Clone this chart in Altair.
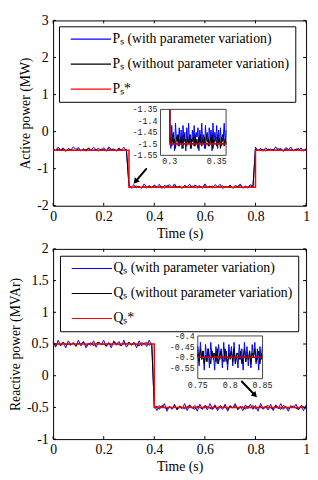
import altair as alt
import pandas as pd

# ================= DATA =================
# sample instants (s)
t_main = [i / 100 for i in range(101)]
t_inset_p = [round(0.3 + i / 1000, 3) for i in range(61)]
t_inset_q = [round(0.75 + i / 500, 3) for i in range(51)]

# tick values
x_ticks = [0, 0.2, 0.4, 0.6, 0.8, 1]
p_ticks = [-2, -1, 0, 1, 2, 3]
q_ticks = [-1, -0.5, 0, 0.5, 1, 1.5, 2]
p_inset_xticks = [0.3, 0.35]
p_inset_yticks = [-1.55, -1.5, -1.45, -1.4, -1.35]
q_inset_xticks = [0.75, 0.8, 0.85]
q_inset_yticks = [-0.55, -0.5, -0.45, -0.4]

# reference (set-point) signals
p_ref_t = [0.0, 0.3, 0.3, 0.8, 0.8, 1.0]
p_ref_v = [-0.5, -0.5, -1.5, -1.5, -0.5, -0.5]
q_ref_t = [0.0, 0.4, 0.4, 1.0]
q_ref_v = [0.5, 0.5, -0.5, -0.5]
p_inset_ref_t = [0.3, 0.3, 0.36]
p_inset_ref_v = [-0.5, -1.5, -1.5]
q_inset_ref_t = [0.75, 0.85]
q_inset_ref_v = [-0.5, -0.5]

# measured deviation from the set-point, in 0.01 MW / 0.01 MVAr
p_with_dev = [5, -2, 8, 1, 6, -3, 3, 0, 9, 2, 7, -2, 4, -3, 6, 0, 8, 1, 5, -2,
              7, -3, 9, 2, 3, -2, 6, 0, 8, -3, 4, 1, 7, -2, 2, -3, 9, 0, 3, -2,
              6, 1, 8, -3, 5, 2, 7, -1, 9, -2, 3, -3, 5, 1, 8, -2, 6, 2, 4, -3,
              9, 0, 3, -2, 7, 1, 8, -3, 2, 0, 6, -2, 5, 1, 9, -3, 3, 0, 7, 2,
              8, -2, 4, -3, 6, 1, 3, -2, 9, 0, 5, -3, 7, 2, 8, -2, 3, 0, 6, -3, 4]
p_without_dev = [1, -1, 3, 0, 2, -2, 4, 1, 0, -1, 3, -2, 2, 1, 4, -1, 0, 2, -2, 3,
                 1, -1, 4, 0, 2, -2, 3, 1, -1, 2, 4, -2, 0, 3, 1, -1, 2, -2, 4, 0,
                 3, -1, 1, 2, -2, 4, 0, -1, 3, 1, 2, -2, 4, -1, 0, 3, 1, -2, 2, 0,
                 4, -1, 1, 3, -2, 2, 0, 4, -1, 1, 3, -2, 0, 2, 4, -1, 1, -2, 3, 0,
                 2, -1, 4, 1, -2, 3, 0, 2, -1, 4, 1, -2, 3, 0, 1, -1, 2, 4, -2, 0, 3]
q_with_dev = [4, -5, 6, -2, 3, -6, 5, -1, 2, -4, 6, -3, 4, -6, 1, -2, 5, -5, 3, -1,
              6, -4, 2, -6, 5, -2, 4, -3, 6, -5, 1, -1, 3, -6, 5, -3, 2, -4, 6, -2,
              4, -5, 3, -1, 6, -6, 2, -3, 5, -4, 1, -2, 6, -5, 4, -1, 3, -6, 5, -3,
              2, -4, 6, -2, 4, -5, 1, -3, 5, -6, 3, -1, 6, -4, 2, -5, 4, -2, 5, -3,
              3, -6, 6, -1, 2, -4, 5, -5, 4, -2, 6, -3, 1, -6, 3, -1, 5, -4, 2, -5, 4]
q_without_dev = [2, -2, 1, -3, 3, -1, 0, -2, 2, -3, 1, 0, 3, -2, -1, 2, -3, 1, 3, -1,
                 0, -3, 2, -2, 3, 1, -1, -3, 2, 0, 3, -2, 1, -1, -3, 2, 0, 3, -2, 1,
                 -1, 2, -3, 3, 0, -2, 1, -1, 3, -3, 2, 0, -2, 1, 3, -1, -3, 2, 0, -2,
                 3, 1, -1, -3, 2, -2, 3, 0, 1, -3, 2, -1, 3, -2, 0, 1, -3, 2, -1, 3,
                 -2, 0, 2, -3, 1, 3, -1, -2, 2, 0, -3, 3, 1, -2, 0, 2, -1, -3, 3, 1, -2]

# zoomed insets (deviation from -1.5 MW / -0.5 MVAr, in 0.01 units)
p_inset_with_dev = [6, -2, 8, 1, 5, -3, 9, 2, 4, -1, 7, 0, 6, -2, 8, 3, 5, -3, 7, 1,
                    9, 0, 4, -2, 6, 2, 8, -1, 5, 3, 7, -3, 6, 0, 9, 1, 4, -2, 8, 2,
                    5, -1, 7, 3, 6, -3, 9, 0, 5, 2, 8, -2, 6, 1, 7, -1, 4, 3, 9, 0, 6]
p_inset_without_dev = [1, 3, -1, 4, 0, 2, -2, 3, 1, 4, -1, 2, 0, 3, -2, 4, 1, 2, -1, 3,
                       0, 4, -2, 2, 1, 3, -1, 4, 0, 2, -2, 3, 1, 4, -1, 2, 0, 3, -2, 4,
                       1, 2, -1, 3, 0, 4, -2, 2, 1, 3, -1, 4, 0, 2, -2, 3, 1, 4, -1, 2, 0]
q_inset_with_dev = [5, -4, 7, -1, 3, -6, 6, -2, 4, -5, 7, 0, 2, -6, 5, -3, 6, -1, 4, -5,
                    7, -2, 3, -6, 6, 0, 5, -4, 7, -3, 2, -5, 6, -1, 4, -6, 7, -2, 5, -4,
                    3, -5, 6, 0, 7, -3, 4, -6, 5, -1, 6]
q_inset_without_dev = [2, -2, 4, -1, 3, -3, 1, -2, 4, 0, -3, 3, -1, 2, -2, 4, -3, 1, 3, -1,
                       -2, 4, 0, -3, 2, -1, 3, -2, 4, -3, 1, 2, -1, 3, -3, 0, 4, -2, 1, -1,
                       3, -3, 2, 0, 4, -2, -1, 3, -3, 2, 1]
p_inset_base = -1.5
q_inset_base = -0.5

# arrows (data coordinates of the main axes)
p_arrow_t = [0.37, 0.328]
p_arrow_v = [-0.99, -1.33]
q_arrow_t = [0.744, 0.7955]
q_arrow_v = [-0.084, -0.297]

p_names = ["Pₛ (with parameter variation)", "Pₛ (without parameter variation)", "Pₛ*"]
q_names = ["Qₛ (with parameter variation)", "Qₛ (without parameter variation)", "Qₛ*"]

# ================= HELPERS =================
SERIF = "Liberation Serif"
MONO = "Liberation Mono"
LAB = "'' + datum.value"
LINE_SYMBOL = "M-20.5,0H20.5"
TICK_UP, TICK_DOWN, TICK_RIGHT, TICK_LEFT = "M0,0V-1", "M0,0V1", "M0,0H1", "M0,0H-1"


def level(t, ref_t, ref_v):
    v = ref_v[0]
    for rt, rv in zip(ref_t, ref_v):
        if rt <= t + 1e-9:
            v = rv
    return v


def series(ts, vs, name):
    return pd.DataFrame({"t": ts, "v": vs, "s": name, "i": list(range(len(ts)))})


def panel(W, H, names, ref_t, ref_v, with_dev, without_dev, y_dom, y_ticks, y_title,
          y_title_pad, leg_xy, arrow_t, arrow_v, arrow_angle,
          in_xdom, in_ydom, in_xrng, in_yrng, in_xticks, in_yticks,
          in_t, in_with, in_without, in_base, in_ref_t, in_ref_v):
    xs = alt.Scale(domain=[0, 1], nice=False, zero=False)
    ys = alt.Scale(domain=y_dom, nice=False, zero=False)

    def X(field="t:Q", scale=xs, axis=None):
        return alt.X(field, scale=scale, axis=axis)

    def Y(field="v:Q", scale=ys, axis=None):
        return alt.Y(field, scale=scale, axis=axis)

    d_with = series(t_main, [level(t, ref_t, ref_v) + d / 100 for t, d in zip(t_main, with_dev)], names[0])
    d_without = series(t_main, [level(t, ref_t, ref_v) + d / 100 for t, d in zip(t_main, without_dev)], names[1])
    d_ref = series(ref_t, ref_v, names[2])

    legend = alt.Legend(title=None, orient="none", legendX=leg_xy[0], legendY=leg_xy[1],
                        symbolType=LINE_SYMBOL, symbolSize=4, symbolStrokeWidth=1.2,
                        symbolOffset=19.5, labelOffset=15,
                        labelFont=SERIF, labelFontSize=14, labelColor="black",
                        labelLimit=400, padding=6, rowPadding=11.5,
                        strokeColor="black", fillColor="white")
    color = alt.Color("s:N", scale=alt.Scale(domain=names, range=["#0000ff", "#000000", "#ff0000"]),
                      legend=legend)

    ax_x = alt.Axis(values=x_ticks, labelExpr=LAB, title="Time (s)", orient="bottom", ticks=False,
                    domain=False, grid=False, labelPadding=4, titlePadding=3, labelFlush=False,
                    labelOverlap=False)
    ax_y = alt.Axis(values=y_ticks, labelExpr=LAB, title=y_title, orient="left", ticks=False,
                    domain=False, grid=False, labelPadding=5, titlePadding=y_title_pad,
                    labelFlush=False, labelOverlap=False)

    blue = alt.Chart(d_with).mark_line(strokeWidth=1).encode(
        x=X(axis=ax_x), y=Y(axis=ax_y), color=color, order="i:Q")
    black = alt.Chart(d_without).mark_line(strokeWidth=1).encode(
        x=X(), y=Y(), color=color, order="i:Q")
    red = alt.Chart(d_ref).mark_line(strokeWidth=1.5).encode(
        x=X(), y=Y(), color=color, order="i:Q")

    # inward tick marks on all four sides of the frame
    def ticks(ts, vs, shape):
        df = pd.DataFrame({"t": ts, "v": vs})
        return alt.Chart(df).mark_point(shape=shape, size=36, filled=False, stroke="black",
                                        strokeWidth=1, opacity=1).encode(x=X(), y=Y())

    tick_layers = [
        ticks(x_ticks, [y_dom[0]] * len(x_ticks), TICK_UP),
        ticks(x_ticks, [y_dom[1]] * len(x_ticks), TICK_DOWN),
        ticks([0] * len(y_ticks), y_ticks, TICK_RIGHT),
        ticks([1] * len(y_ticks), y_ticks, TICK_LEFT),
    ]

    d_arrow = pd.DataFrame({"t": arrow_t, "v": arrow_v, "i": [0, 1]})
    arrow = alt.Chart(d_arrow).mark_line(color="black", strokeWidth=2).encode(
        x=X(), y=Y(), order="i:Q")
    head = alt.Chart(d_arrow.iloc[[1]]).mark_point(
        shape="triangle", filled=True, size=45, angle=arrow_angle, color="black",
        opacity=1).encode(x=X(), y=Y())

    # ---- inset ----
    ixs = alt.Scale(domain=in_xdom, range=in_xrng, clamp=True, nice=False, zero=False)
    iys = alt.Scale(domain=in_ydom, range=in_yrng, clamp=True, nice=False, zero=False)
    d_box = pd.DataFrame({"x0": [in_xdom[0]], "x1": [in_xdom[1]],
                          "y0": [in_ydom[0]], "y1": [in_ydom[1]]})
    bg = alt.Chart(d_box).mark_rect(fill="white", strokeWidth=0).encode(
        x=X("x0:Q", ixs), x2="x1:Q", y=Y("y0:Q", iys), y2="y1:Q")
    frame = alt.Chart(d_box).mark_rect(fillOpacity=0, stroke="#444", strokeWidth=1).encode(
        x=X("x0:Q", ixs), x2="x1:Q", y=Y("y0:Q", iys), y2="y1:Q")

    it = [in_ref_t[0]] + in_t
    i_with = series(it, [in_ref_v[0]] + [in_base + d / 100 for d in in_with], "w")
    i_without = series(it, [in_ref_v[0]] + [in_base + d / 100 for d in in_without], "wo")
    i_ref = series(in_ref_t, in_ref_v, "r")

    def iline(df, col, sw):
        return alt.Chart(df).mark_line(color=col, strokeWidth=sw).encode(
            x=X("t:Q", ixs), y=Y("v:Q", iys), order="i:Q")

    d_xl = pd.DataFrame({"t": in_xticks, "v": [in_ydom[0]] * len(in_xticks),
                         "lab": [str(v) for v in in_xticks]})
    d_yl = pd.DataFrame({"t": [in_xdom[0]] * len(in_yticks), "v": in_yticks,
                         "lab": [str(v) for v in in_yticks]})
    xl = alt.Chart(d_xl).mark_text(font=MONO, fontSize=8.5, color="#222", baseline="top",
                                   dy=2).encode(x=X("t:Q", ixs), y=Y("v:Q", iys), text="lab:N")
    yl = alt.Chart(d_yl).mark_text(font=MONO, fontSize=8.5, color="#222", align="right",
                                   baseline="middle", dx=-3).encode(
        x=X("t:Q", ixs), y=Y("v:Q", iys), text="lab:N")

    layers = [blue, black, red, *tick_layers, arrow, head,
              bg, iline(i_with, "#0000ff", 1), iline(i_without, "#000000", 1),
              iline(i_ref, "#cc0000", 1.6), frame, xl, yl]
    return alt.layer(*layers).resolve_scale(x="independent", y="independent").properties(
        width=W, height=H)


W1, H1 = 258, 189
W2, H2 = 258, 194

top = panel(W1, H1, p_names, p_ref_t, p_ref_v, p_with_dev, p_without_dev, [-2, 3], p_ticks,
            "Active power (MW)", 4, (6, 6), p_arrow_t, p_arrow_v, 220,
            [0.29, 0.36], [-1.55, -1.35], [0.4245 * W1, 0.6838 * W1], [0.728 * H1, 0.48 * H1],
            p_inset_xticks, p_inset_yticks, t_inset_p, p_inset_with_dev, p_inset_without_dev,
            p_inset_base, p_inset_ref_t, p_inset_ref_v)

bottom = panel(W2, H2, q_names, q_ref_t, q_ref_v, q_with_dev, q_without_dev, [-1, 2], q_ticks,
               "Reactive power (MVAr)", 4, (7, 7), q_arrow_t, q_arrow_v, 136,
               [0.75, 0.85], [-0.6, -0.4], [0.572 * W2, 0.828 * W2], [0.6823 * H2, 0.4576 * H2],
               q_inset_xticks, q_inset_yticks, t_inset_q, q_inset_with_dev, q_inset_without_dev,
               q_inset_base, q_inset_ref_t, q_inset_ref_v)

chart = alt.concat(top, bottom, columns=1, spacing=0, align="none").resolve_scale(
    color="independent").properties(
    padding={"left": 0, "top": 0, "right": 0, "bottom": 0}).configure_view(
    stroke="black", strokeWidth=1).configure_axis(
    labelFont=SERIF, titleFont=SERIF, labelFontSize=14, titleFontSize=14,
    labelColor="black", titleColor="black", titleFontWeight="normal")

chart.save("out.html", embed_options={"renderer": "svg", "actions": False})
